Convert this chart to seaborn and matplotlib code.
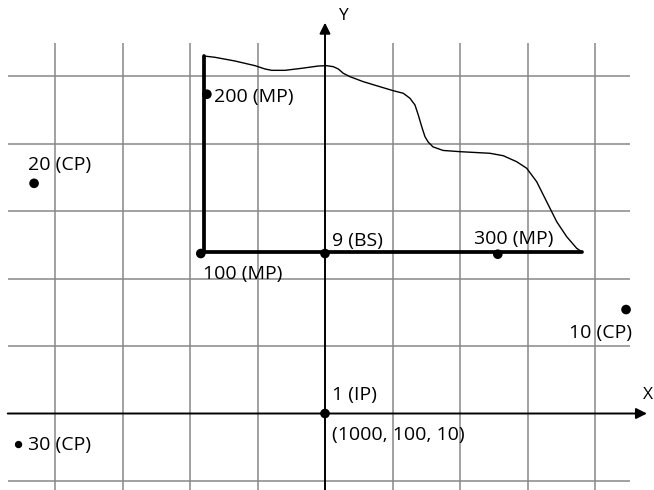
import matplotlib
matplotlib.use("Agg")
import matplotlib.pyplot as plt
import seaborn as sns
import pandas as pd

# ---- data (grid units; origin at the IP point) ----
grid_x = [-4, -3, -2, -1, 1, 2, 3, 4]
grid_y = [-1, 1, 2, 3, 4, 5]

curve_x = [-1.793, -1.630, -1.333, -1.037, -0.889, -0.790, -0.593, -0.345,
           -0.099, 0.025, 0.123, 0.197, 0.271, 0.370, 0.567, 0.815,
           1.012, 1.160, 1.259, 1.333, 1.382, 1.433, 1.481, 1.530,
           1.600, 1.750, 2.000, 2.444, 2.641, 2.840, 2.988, 3.136,
           3.284, 3.433, 3.581, 3.729, 3.803]
curve_y = [5.296, 5.277, 5.222, 5.153, 5.104, 5.084, 5.084, 5.114,
           5.148, 5.153, 5.138, 5.104, 5.040, 4.990, 4.916, 4.841,
           4.782, 4.744, 4.670, 4.570, 4.422, 4.249, 4.101, 4.020,
           3.950, 3.897, 3.879, 3.855, 3.819, 3.730, 3.633, 3.434,
           3.138, 2.841, 2.619, 2.447, 2.397]

frame_x = [-1.79, -1.79, 3.81]
frame_y = [5.30, 2.39, 2.39]

point_labels = ["200 (MP)", "20 (CP)", "100 (MP)", "9 (BS)", "300 (MP)",
                "10 (CP)", "1 (IP)", "30 (CP)"]
point_x = [-1.75, -4.31, -1.84, 0.00, 2.56, 4.46, 0.00, -4.54]
point_y = [4.73, 3.41, 2.37, 2.37, 2.36, 1.54, 0.00, -0.46]
point_size = [1, 1, 1, 1, 1, 1, 1, 0.75]

label_texts = ["200 (MP)", "20 (CP)", "100 (MP)", "9 (BS)", "300 (MP)",
               "10 (CP)", "1 (IP)", "(1000, 100, 10)", "30 (CP)"]
label_x = [-1.64, -4.40, -1.81, 0.10, 2.21, 3.61, 0.10, 0.10, -4.40]
label_y = [4.69, 3.68, 2.07, 2.56, 2.58, 1.19, 0.28, -0.32, -0.47]

sns.set_style("white")
plt.rcParams['font.family'] = ['Open Sans', 'DejaVu Sans']

fig = plt.figure(figsize=(6.54, 4.9), dpi=100)
ax = fig.add_axes([0, 0, 1, 1])
ax.set_xlim(-325 / 67.5, (654 - 325) / 67.5)
ax.set_ylim((413.5 - 490) / 67.5, 413.5 / 67.5)
ax.set_aspect('equal')
ax.axis('off')

# grid
ax.vlines(grid_x, -1.2, 5.49, colors='#878787', linewidth=1.1, zorder=1)
ax.hlines(grid_y, -4.70, 4.52, colors='#878787', linewidth=1.1, zorder=1)

# axes with arrows
ax.annotate('', xy=(0, 5.79), xytext=(0, -1.2),
            arrowprops=dict(arrowstyle='-|>', color='black', lw=1.4,
                            mutation_scale=16, shrinkA=0, shrinkB=0), zorder=3)
ax.annotate('', xy=(4.77, 0), xytext=(-4.70, 0),
            arrowprops=dict(arrowstyle='-|>', color='black', lw=1.4,
                            mutation_scale=16, shrinkA=0, shrinkB=0), zorder=3)
ax.text(0.27, 5.89, "Y", fontsize=12.5, ha='center', va='center', color='black')
ax.text(4.79, 0.27, "X", fontsize=12.5, ha='center', va='center', color='black')

# curve and bold frame
sns.lineplot(x=curve_x, y=curve_y, sort=False, color='black', linewidth=1.0,
             ax=ax, zorder=4, estimator=None, solid_joinstyle='round')
sns.lineplot(x=frame_x, y=frame_y, sort=False, color='black', linewidth=2.7,
             ax=ax, zorder=4, estimator=None)

# points
pts = pd.DataFrame({"x": point_x, "y": point_y, "label": point_labels,
                    "s": point_size})
sns.scatterplot(data=pts, x="x", y="y", size="s", sizes=(28, 48),
                color='black', edgecolor='none', ax=ax, zorder=5, legend=False)

for t, lx, ly in zip(label_texts, label_x, label_y):
    ax.text(lx, ly, t, fontsize=14, ha='left', va='center', zorder=6,
            color='black')

fig.savefig("out.png", dpi=100)
